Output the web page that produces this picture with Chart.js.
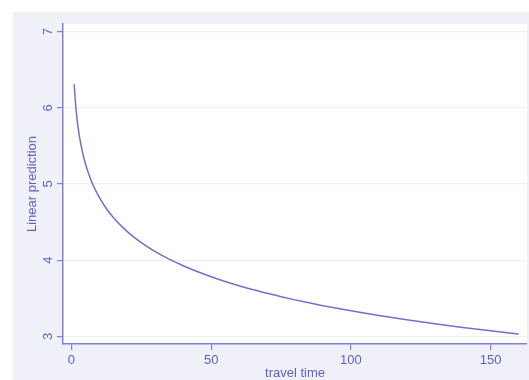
<!DOCTYPE html>
<html>
<head>
<meta charset="utf-8">
<script src="https://cdn.jsdelivr.net/npm/chart.js@4/dist/chart.umd.min.js"></script>
<style>
    html, body { margin: 0; padding: 0; background: #ffffff; }
    #wrap { width: 529px; height: 380px; }
</style>
</head>
<body>
<div id="wrap"><canvas id="predictionChart"></canvas></div>
<script>
// values
const travelTime = [1, 1.5, 2, 2.5, 3, 4, 5, 6, 7, 8, 10, 12, 15, 20, 25, 30, 35, 40, 45, 50, 55, 60, 65, 70, 75, 80, 85, 90, 100, 110, 120, 130, 140, 150, 160];
const prediction = [6.310, 6.048, 5.862, 5.718, 5.600, 5.414, 5.270, 5.153, 5.053, 4.967, 4.823, 4.705, 4.561, 4.375, 4.231, 4.113, 4.013, 3.927, 3.851, 3.783, 3.721, 3.665, 3.614, 3.565, 3.521, 3.479, 3.440, 3.403, 3.335, 3.273, 3.217, 3.166, 3.118, 3.073, 3.031];
const xTicks = [0, 50, 100, 150];
const yTicks = [3, 4, 5, 6, 7];

const axisColor = '#7d82d4';
const textColor = '#5d62c4';
const lineColor = '#6e72ca';
const outerBg = '#eff0f8';

const points = travelTime.map((t, i) => ({x: t, y: prediction[i]}));

const backgroundPlugin = {
    id: 'background',
    beforeDraw(chart) {
        const ctx = chart.ctx;
        const area = chart.chartArea;
        ctx.save();
        ctx.fillStyle = '#ffffff';
        ctx.fillRect(0, 0, chart.width, chart.height);
        ctx.fillStyle = outerBg;
        ctx.fillRect(13, 12, chart.width - 13, chart.height - 12);
        ctx.fillStyle = '#ffffff';
        ctx.fillRect(area.left, area.top, area.right - area.left, area.bottom - area.top);
        ctx.restore();
    }
};

const font = {family: '"Liberation Sans", Arial, sans-serif', size: 13};

new Chart(document.getElementById('predictionChart').getContext('2d'), {
    type: 'line',
    data: {
        datasets: [{
            data: points,
            borderColor: lineColor,
            borderWidth: 1.5,
            pointRadius: 0,
            fill: false,
            cubicInterpolationMode: 'monotone'
        }]
    },
    options: {
        responsive: true,
        maintainAspectRatio: false,
        animation: false,
        layout: {padding: {left: 13, top: 24, right: 2, bottom: 0}},
        plugins: {
            legend: {display: false},
            tooltip: {enabled: false}
        },
        scales: {
            x: {
                type: 'linear',
                min: -3,
                max: 163,
                afterFit: (scale) => { scale.height = 36; },
                afterBuildTicks: (scale) => { scale.ticks = xTicks.map(v => ({value: v})); },
                border: {color: axisColor, width: 1.5},
                grid: {drawOnChartArea: false, tickLength: 6, tickColor: axisColor, lineWidth: 1.2},
                ticks: {color: textColor, font: font, padding: 3, maxRotation: 0},
                title: {display: true, text: 'travel time', color: textColor, font: font, padding: {top: 0, bottom: -1}}
            },
            y: {
                min: 2.9,
                max: 7.1,
                afterFit: (scale) => { scale.width = 50; },
                afterBuildTicks: (scale) => { scale.ticks = yTicks.map(v => ({value: v})); },
                border: {color: axisColor, width: 1.5},
                grid: {color: '#efeff6', lineWidth: 1.2, tickLength: 6, tickColor: axisColor},
                ticks: {color: textColor, font: font, padding: 5, minRotation: 90, maxRotation: 90, crossAlign: 'center'},
                title: {display: true, text: 'Linear prediction', color: textColor, font: font, padding: {top: 12, bottom: 0}}
            }
        }
    },
    plugins: [backgroundPlugin]
});
</script>
</body>
</html>
